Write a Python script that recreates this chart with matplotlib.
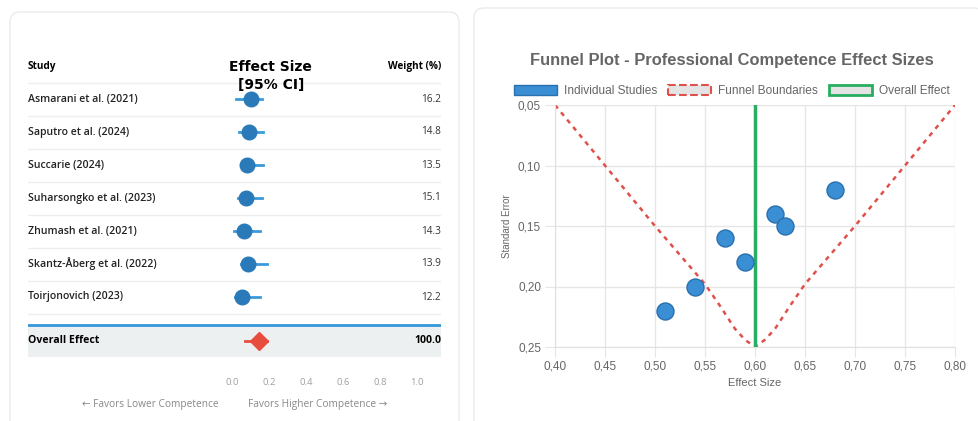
import matplotlib.pyplot as plt
from matplotlib.patches import FancyBboxPatch, Patch, Rectangle
from matplotlib.transforms import IdentityTransform

W, H = 979, 421

# forest plot data
studies = ["Asmarani et al. (2021)", "Saputro et al. (2024)", "Succarie (2024)",
           "Suharsongko et al. (2023)", "Zhumash et al. (2021)",
           "Skantz-Åberg et al. (2022)", "Toirjonovich (2023)"]
effect = [0.105, 0.09, 0.08, 0.075, 0.065, 0.085, 0.055]
ci_low = [0.02, 0.04, 0.05, 0.03, 0.01, 0.05, 0.015]
ci_high = [0.16, 0.17, 0.17, 0.16, 0.15, 0.19, 0.15]
weights = [16.2, 14.8, 13.5, 15.1, 14.3, 13.9, 12.2]
overall_effect = 0.145
overall_low, overall_high = 0.07, 0.19
overall_weight = 100.0
forest_ticks = [0.0, 0.2, 0.4, 0.6, 0.8, 1.0]

# funnel plot data
funnel_effect = [0.51, 0.54, 0.57, 0.59, 0.62, 0.63, 0.68]
funnel_se = [0.22, 0.20, 0.16, 0.18, 0.14, 0.15, 0.12]
boundary_x = [0.40, 0.45, 0.50, 0.55, 0.565, 0.58, 0.59, 0.60, 0.61, 0.62, 0.635, 0.65, 0.70, 0.75, 0.80]
boundary_se = [0.05, 0.10, 0.15, 0.198, 0.216, 0.235, 0.244, 0.25, 0.244, 0.235, 0.216, 0.198, 0.15, 0.10, 0.05]
pooled_effect = 0.60
x_ticks = [0.40, 0.45, 0.50, 0.55, 0.60, 0.65, 0.70, 0.75, 0.80]
y_ticks = [0.05, 0.10, 0.15, 0.20, 0.25]

fig = plt.figure(figsize=(W / 100, H / 100), dpi=100)
fig.patch.set_facecolor("white")

# cards
for x0, y0, w in [(10, 12, 449), (474, 8, 510)]:
    card = FancyBboxPatch((x0, -30), w, H - y0 + 30, boxstyle="round,pad=0,rounding_size=10",
                          transform=IdentityTransform(), facecolor="white",
                          edgecolor="#ebebeb", lw=1, zorder=0)
    fig.add_artist(card)

# ---------------- forest plot ----------------
sans = ["Open Sans", "DejaVu Sans"]
ax1 = fig.add_axes([28 / W, 0, 413 / W, 1])
ax1.set_xlim(-(232 - 28) / 185, (441 - 232) / 185)
ax1.set_ylim((H - 99) / 33, -99 / 33)
ax1.axis("off")
xl, xr = ax1.get_xlim()

ax1.text(xl, -1, "Study", fontsize=7.2, fontweight="bold", family=sans, va="center")
ax1.text(xr, -1, "Weight (%)", fontsize=7.2, fontweight="bold", family=sans, va="center", ha="right")
ax1.text(0.21, -0.98, "Effect Size", fontsize=10, fontweight="bold", ha="center", va="center")
ax1.text(0.21, -0.42, "[95% CI]", fontsize=10, fontweight="bold", ha="center", va="center", zorder=5)

for k in range(-1, 7):
    ax1.plot([xl, xr], [k + 0.5, k + 0.5], color="#eeeeee", lw=1, zorder=1)

for i, name in enumerate(studies):
    ax1.text(xl, i, name, fontsize=7.6, fontweight="semibold", family=sans, va="center", color="#222222")
    ax1.text(xr, i, f"{weights[i]:.1f}", fontsize=7.2, family=sans, va="center", ha="right", color="#333333")
    ax1.plot([ci_low[i], ci_high[i]], [i, i], color="#3a9ad9", lw=2, zorder=2)
    ax1.plot(effect[i], i, "o", color="#2a7ab9", markersize=10.5, zorder=3)

ov = 7.33
ax1.add_patch(Rectangle((xl, 6.85), xr - xl, 0.98, facecolor="#ecf0f1", edgecolor="none", zorder=1))
ax1.plot([xl, xr], [6.85, 6.85], color="#3498db", lw=2, zorder=2)
ax1.text(xl, ov, "Overall Effect", fontsize=7.6, fontweight="bold", family=sans, va="center")
ax1.text(xr, ov, f"{overall_weight:.1f}", fontsize=7.6, fontweight="bold", family=sans, va="center", ha="right")
ax1.plot([overall_low, overall_high], [ov, ov], color="#e74c3c", lw=2, zorder=2)
ax1.plot(overall_effect, ov, "D", color="#e74c3c", markersize=9.5, zorder=3)

for t in forest_ticks:
    ax1.text(t, 8.58, f"{t:.1f}", fontsize=6.8, family=sans, ha="center", va="center", color="#a0a0a0")
ax1.text(-0.075, 9.27, "← Favors Lower Competence", fontsize=7.3, family=sans, ha="right", va="center", color="#888888")
ax1.text(0.085, 9.27, "Favors Higher Competence →", fontsize=7.3, family=sans, ha="left", va="center", color="#888888")

# ---------------- funnel plot ----------------
ax2 = fig.add_axes([555 / W, (H - 347) / H, 400 / W, 242 / H])
ax2.plot(boundary_x, boundary_se, color="#e0504a", lw=1.8, ls=(0, (1.8, 2)), zorder=2)
ax2.plot([pooled_effect, pooled_effect], [y_ticks[0], y_ticks[-1]], color="#27ae60", lw=2.5, zorder=3)
ax2.scatter(funnel_effect, funnel_se, s=150, color="#3a8fd4", edgecolor="#2a6fae", lw=1, zorder=4)
ax2.set_xlim(0.40, 0.80)
ax2.set_ylim(0.25, 0.05)
ax2.set_xticks(x_ticks)
ax2.set_yticks(y_ticks)
ax2.set_xticklabels([f"{t:.2f}".replace(".", ",") for t in x_ticks])
ax2.set_yticklabels([f"{t:.2f}".replace(".", ",") for t in y_ticks])
ax2.grid(True, color="#e6e6e6", lw=1)
ax2.set_axisbelow(True)
for s in ax2.spines.values():
    s.set_visible(False)
for s in ["left", "bottom"]:
    ax2.spines[s].set_visible(True)
    ax2.spines[s].set_color("#e0e0e0")
ax2.tick_params(length=7, color="#e6e6e6", labelsize=8.5, labelcolor="#666666", pad=3)
for lab in ax2.get_xticklabels() + ax2.get_yticklabels():
    lab.set_family("Liberation Sans")
ax2.set_xlabel("Effect Size", fontsize=8, color="#666666", family="Liberation Sans", labelpad=4)
fig.text(507 / W, 1 - 226 / H, "Standard Error", rotation=90, fontsize=7, color="#666666",
         family="Liberation Sans", ha="center", va="center")

fig.text(732 / W, 1 - 60 / H, "Funnel Plot - Professional Competence Effect Sizes", fontsize=11.9,
         fontweight="bold", color="#666666", family="Liberation Sans", ha="center", va="center")

handles = [Patch(facecolor="#3a8fd4", edgecolor="#2a6fae"),
           Patch(facecolor="#e4e4e4", edgecolor="#e0504a", ls="--", lw=1.5),
           Patch(facecolor="#e4e4e4", edgecolor="#27ae60", lw=2)]
leg = fig.legend(handles, ["Individual Studies", "Funnel Boundaries", "Overall Effect"],
                 loc="center", bbox_to_anchor=(732 / W, 1 - 91 / H), ncol=3, frameon=False,
                 prop={"family": "Liberation Sans", "size": 8.6}, handlelength=3.6, handleheight=1.0,
                 handletextpad=0.6, columnspacing=0.9, labelcolor="#666666")

fig.savefig("out.png", dpi=100)
